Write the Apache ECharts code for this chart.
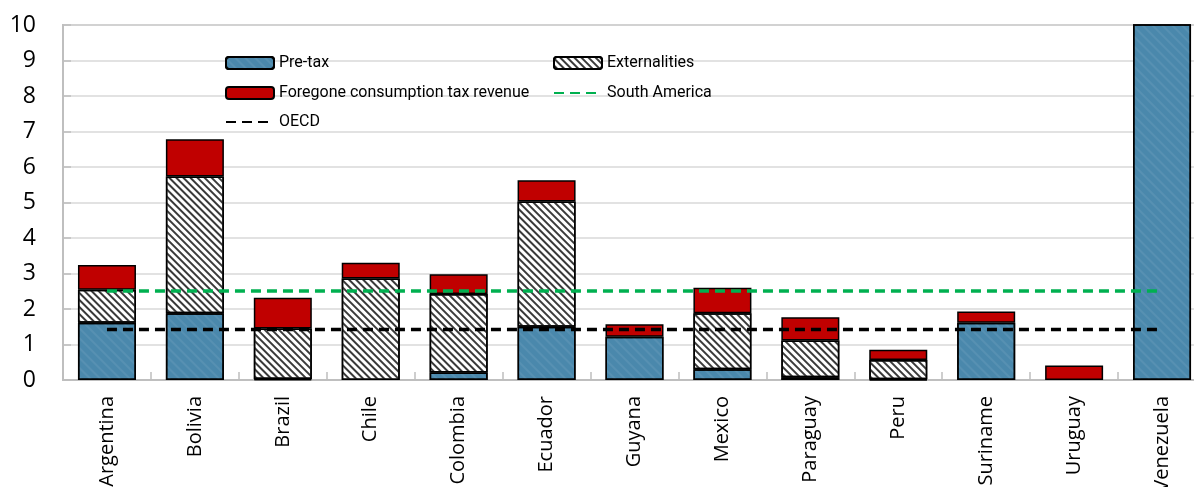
<!DOCTYPE html>
<html>
<head>
<meta charset="utf-8">
<script src="https://cdn.jsdelivr.net/npm/echarts@6/dist/echarts.min.js"></script>
<style>
html,body{margin:0;padding:0;background:#fff;}
#chart{width:1194px;height:487px;}
</style>
</head>
<body>
<div id="chart"></div>
<script>
const categories = ['Argentina','Bolivia','Brazil','Chile','Colombia','Ecuador','Guyana','Mexico','Paraguay','Peru','Suriname','Uruguay','Venezuela'];
const preTax      = [1.61, 1.88, 0.03, 0.00, 0.21, 1.50, 1.22, 0.30, 0.08, 0.02, 1.61, 0.00, 12.0];
const externalities = [0.93, 3.85, 1.42, 2.86, 2.21, 3.53, 0.00, 1.58, 1.03, 0.54, 0.00, 0.00, 0.00];
const foregone    = [0.70, 1.05, 0.87, 0.44, 0.56, 0.60, 0.35, 0.72, 0.66, 0.29, 0.32, 0.41, 0.00];
const southAmerica = 2.51;
const oecd = 1.42;
const yTicks = [0,1,2,3,4,5,6,7,8,9,10];

const saLine = categories.map(() => southAmerica);
const oecdLine = categories.map(() => oecd);
// zero-height segments get no outline
const asItems = arr => arr.map(v => v === 0 ? {value: v, itemStyle: {borderWidth: 0}} : v);

const chart = echarts.init(document.getElementById('chart'), null, {renderer:'canvas'});
const legendFont = {fontSize:16, color:'#000', fontFamily:"Roboto,sans-serif"};
function legend(name, left, top, isLine){
  const l = {data:[name], left:left, top:top, itemWidth:48, itemHeight:12, itemGap:0,
          textStyle:legendFont, selectedMode:false};
  if (isLine) l.itemStyle = {color:'rgba(0,0,0,0)', borderWidth:0};
  return l;
}
chart.setOption({
  animation:false,
  grid:{left:63, width:1143, top:25, bottom:107, show:true, borderColor:'#BFBFBF', borderWidth:2,
        outerBoundsMode:'none', containLabel:false},
  legend:[
    legend('Pre-tax', 220, 50),
    legend('Externalities', 548, 50),
    legend('Foregone consumption tax revenue', 220, 80),
    legend('South America', 548, 80, true),
    legend('OECD', 220, 109, true)
  ],
  xAxis:{
    type:'category', data:categories,
    axisLine:{lineStyle:{color:'#BFBFBF', width:2}},
    axisTick:{show:true, inside:true, length:8, lineStyle:{color:'#BFBFBF', width:1.5}},
    axisLabel:{rotate:90, fontSize:20, color:'#000', margin:16, fontFamily:"'Open Sans',sans-serif", interval:0}
  },
  yAxis:{
    type:'value', min:0, max:10, interval:1,
    axisLine:{show:true, lineStyle:{color:'#BFBFBF', width:2}},
    axisTick:{show:true, inside:true, length:8, lineStyle:{color:'#BFBFBF', width:1.5}},
    axisLabel:{fontSize:23, color:'#000', margin:27, fontFamily:"'Open Sans',sans-serif",
      formatter:(v)=> yTicks.includes(v) ? String(v) : ''},
    splitLine:{lineStyle:{color:'#D9D9D9', width:1.5}}
  },
  series:[
    {name:'Pre-tax', type:'bar', stack:'s', data:asItems(preTax), barWidth:58,
     itemStyle:{color:'#4A88AC', borderColor:'#000', borderWidth:1.5,
       decal:{symbol:'rect', symbolSize:1, dashArrayX:[[1,0]], dashArrayY:[2,5], rotation:Math.PI/4, color:'rgba(255,255,255,0.07)'}}},
    {name:'Externalities', type:'bar', stack:'s', data:asItems(externalities), barWidth:58,
     itemStyle:{color:'#fff', borderColor:'#000', borderWidth:1.5,
       decal:{symbol:'rect', symbolSize:1, dashArrayX:[[1,0]], dashArrayY:[2,3], rotation:Math.PI/4, color:'#3a3a3a'}}},
    {name:'Foregone consumption tax revenue', type:'bar', stack:'s', data:asItems(foregone), barWidth:58,
     itemStyle:{color:'#C00000', borderColor:'#000', borderWidth:1.5}},
    {name:'South America', type:'line', data:saLine, symbol:'none', z:5,
     itemStyle:{color:'#00B050'},
     lineStyle:{color:'#00B050', width:3.5, type:[10,6]}},
    {name:'OECD', type:'line', data:oecdLine, symbol:'none', z:5,
     itemStyle:{color:'#000'},
     lineStyle:{color:'#000', width:3.5, type:[10,6]}}
  ]
});
</script>
</body>
</html>
